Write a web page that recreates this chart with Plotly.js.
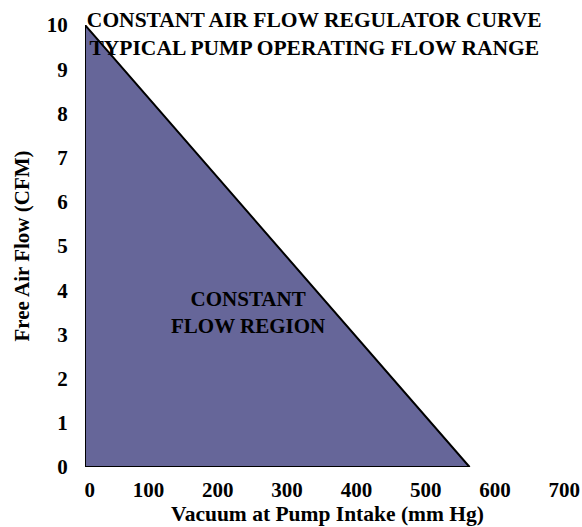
<!DOCTYPE html>
<html>
<head>
<meta charset="utf-8">
<script src="https://cdn.plot.ly/plotly-3.0.1.min.js"></script>
<style>html,body{margin:0;padding:0;background:#fff;}#chart{width:582px;height:527px;}</style>
</head>
<body>
<div id="chart"></div>
<script>
// Region boundary (vacuum in mm Hg, free air flow in CFM)
const vacuum = [0, 555, 0, 0];
const flow = [10, 0, 0, 10];
const xTicks = [0, 100, 200, 300, 400, 500, 600, 700];
const yTicks = [0, 1, 2, 3, 4, 5, 6, 7, 8, 9, 10];
const titleLines = ["CONSTANT AIR FLOW REGULATOR CURVE", "TYPICAL PUMP OPERATING FLOW RANGE"];
const regionLabel = ["CONSTANT", "FLOW REGION"];
const regionLabelPos = {x: 235, y: 3.5};

const font = {family: "Liberation Serif, Times New Roman, serif", color: "#000"};

const trace = {
  x: vacuum, y: flow, mode: "lines", fill: "toself",
  fillcolor: "#666699", line: {color: "#000", width: 2},
  hoverinfo: "skip", showlegend: false
};

const layout = {
  width: 582, height: 527,
  margin: {l: 85, r: 12, t: 25, b: 60},
  paper_bgcolor: "#fff", plot_bgcolor: "#fff",
  font: Object.assign({size: 21}, font),
  title: {
    text: "<b>" + titleLines.join("<br>") + "</b>",
    font: Object.assign({size: 21.5}, font),
    xref: "container", x: 0.54, xanchor: "center",
    yref: "container", y: 0.948, yanchor: "top"
  },
  xaxis: {
    range: [0, 700], tickvals: xTicks, ticktext: xTicks.map(v => "<b>" + v + "</b>"),
    showgrid: false, zeroline: false, showline: false,
    ticks: "", ticklabelstandoff: 8,
    ticklabelposition: "outside left", ticklabelshift: 10, ticklabeloverflow: "allow",
    tickfont: Object.assign({size: 21}, font),
    title: {text: "<b>Vacuum at Pump Intake (mm Hg)</b>", font: Object.assign({size: 21.5}, font), standoff: 4}
  },
  yaxis: {
    range: [0, 10], tickvals: yTicks, ticktext: yTicks.map(v => "<b>" + v + "</b>"),
    showgrid: false, zeroline: false, showline: false,
    ticks: "outside", ticklen: 12, tickcolor: "rgba(0,0,0,0)",
    tickfont: Object.assign({size: 21}, font),
    title: {text: "<b>Free Air Flow (CFM)</b>", font: Object.assign({size: 21}, font), standoff: 11}
  },
  annotations: [{
    x: regionLabelPos.x, y: regionLabelPos.y, xref: "x", yref: "y",
    text: "<b>" + regionLabel.join("<br>") + "</b>", showarrow: false,
    font: Object.assign({size: 21}, font), align: "center"
  }]
};

Plotly.newPlot("chart", [trace], layout, {displayModeBar: false, staticPlot: true});
</script>
</body>
</html>
